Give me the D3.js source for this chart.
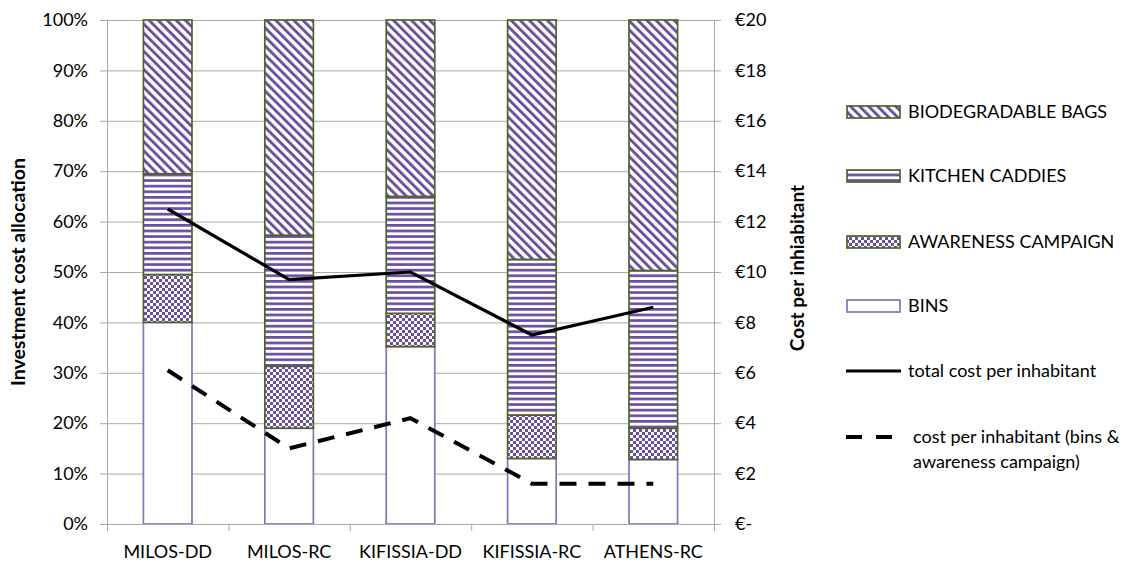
<!DOCTYPE html>
<html><head><meta charset="utf-8">
<script src="https://cdn.jsdelivr.net/npm/d3@7"></script>
<style>body{margin:0;background:#fff}svg{display:block}text{font-family:Lato,"Open Sans",sans-serif;fill:#000}</style>
</head><body><svg id="c" width="1146" height="562"></svg>
<script>
const categories = ["MILOS-DD","MILOS-RC","KIFISSIA-DD","KIFISSIA-RC","ATHENS-RC"];
const bins = [40, 19, 35.2, 13, 12.8];
const awareness = [9.5, 12.3, 6.6, 8.6, 6.2];
const caddies = [20, 26, 23.2, 30.9, 31.3];
const bags = [30.5, 42.7, 35, 47.5, 49.7];
const totalCost = [12.5, 9.7, 10.0, 7.5, 8.6];
const binsAwarenessCost = [6.1, 3.0, 4.2, 1.6, 1.6];
const leftTicks = [0,10,20,30,40,50,60,70,80,90,100];
const rightTicks = [0,2,4,6,8,10,12,14,16,18,20];
const seriesNames = ["BINS","AWARENESS CAMPAIGN","KITCHEN CADDIES","BIODEGRADABLE BAGS"];

const purple = "#6b50a0", green = "#4f6228", binPurple = "#8c70bb", grid = "#a9a9a9";
const svg = d3.select("#c");
const defs = svg.append("defs");
const pd = defs.append("pattern").attr("id","pBags").attr("patternUnits","userSpaceOnUse")
  .attr("width",6.4).attr("height",6.4).attr("patternTransform","rotate(-45)");
pd.append("rect").attr("width",6.4).attr("height",6.4).attr("fill","#fff");
pd.append("rect").attr("width",2.9).attr("height",6.4).attr("fill",purple);
const ph = defs.append("pattern").attr("id","pCad").attr("patternUnits","userSpaceOnUse").attr("width",6).attr("height",5.6);
ph.append("rect").attr("width",6).attr("height",5.6).attr("fill","#fff");
ph.append("rect").attr("width",6).attr("height",2.7).attr("fill",purple);
const pc = defs.append("pattern").attr("id","pAw").attr("patternUnits","userSpaceOnUse").attr("width",6).attr("height",6);
pc.append("rect").attr("width",6).attr("height",6).attr("fill","#fff");
pc.append("rect").attr("width",3).attr("height",3).attr("fill",purple);
pc.append("rect").attr("x",3).attr("y",3).attr("width",3).attr("height",3).attr("fill",purple);

const fills = {"BINS":"#fff","AWARENESS CAMPAIGN":"url(#pAw)","KITCHEN CADDIES":"url(#pCad)","BIODEGRADABLE BAGS":"url(#pBags)"};
const strokes = {"BINS":binPurple,"AWARENESS CAMPAIGN":green,"KITCHEN CADDIES":green,"BIODEGRADABLE BAGS":green};

const L=107, R=714, T=20, B=524;
const FS = 18;
const x = d3.scaleBand().domain(categories).range([L,R]).paddingInner(0.6).paddingOuter(0.3);
const xOuter = d3.scaleBand().domain(categories).range([L,R]);
const y = d3.scaleLinear().domain([0,100]).range([B,T]);
const y2 = d3.scaleLinear().domain([0,20]).range([B,T]);

svg.append("g").selectAll("line").data(leftTicks).join("line")
  .attr("x1",L).attr("x2",R).attr("y1",d=>y(d)+0.5).attr("y2",d=>y(d)+0.5).attr("stroke",grid);

const rows = categories.map((c,i)=>({cat:c,"BINS":bins[i],"AWARENESS CAMPAIGN":awareness[i],"KITCHEN CADDIES":caddies[i],"BIODEGRADABLE BAGS":bags[i]}));
const stacked = d3.stack().keys(seriesNames)(rows);
stacked.forEach(s=>{
  svg.append("g").selectAll("rect").data(s).join("rect")
    .attr("x",d=>x(d.data.cat)).attr("width",x.bandwidth())
    .attr("y",d=>y(d[1])).attr("height",d=>y(d[0])-y(d[1]))
    .attr("fill",fills[s.key]).attr("stroke",strokes[s.key]).attr("stroke-width",1.7);
});

const gl = svg.append("g").attr("transform",`translate(${L},0)`)
  .call(d3.axisLeft(y).tickValues(leftTicks).tickFormat(d=>d+"%").tickSize(7).tickPadding(12));
const gr = svg.append("g").attr("transform",`translate(${R},0)`)
  .call(d3.axisRight(y2).tickValues(rightTicks).tickFormat(d=>d===0?"€-":"€"+d).tickSize(7).tickPadding(14));
const gb = svg.append("g").attr("transform",`translate(0,${B})`)
  .call(d3.axisBottom(x).tickSize(0).tickPadding(20));
[gl,gr,gb].forEach(g=>{g.select(".domain").attr("stroke",grid);g.selectAll(".tick line").attr("stroke",grid);
  g.selectAll("text").attr("font-size",FS).attr("fill","#000").attr("font-family","Lato, sans-serif");});
gb.select(".domain").attr("d",`M${L},0.5H${R}`);
gb.selectAll(".tick text").attr("dy","0.71em").attr("y",21);
svg.append("g").selectAll("line").data(categories.concat(["_end"])).join("line")
  .attr("x1",(d,i)=>i<categories.length?xOuter(d)+0.5:R+0.5).attr("x2",(d,i)=>i<categories.length?xOuter(d)+0.5:R+0.5)
  .attr("y1",B).attr("y2",B+7).attr("stroke",grid);

const xc = c=>x(c)+x.bandwidth()/2;
const line = d3.line().x((d,i)=>xc(categories[i])).y(d=>y2(d));
svg.append("path").attr("d",line(totalCost)).attr("fill","none").attr("stroke","#000").attr("stroke-width",3.2);
svg.append("path").attr("d",line(binsAwarenessCost)).attr("fill","none").attr("stroke","#000").attr("stroke-width",4)
  .attr("stroke-dasharray","17,12");

svg.append("text").attr("transform",`translate(25,${(T+B)/2}) rotate(-90)`).attr("text-anchor","middle")
  .attr("font-size",19.5).attr("font-weight","bold").text("Investment cost allocation");
svg.append("text").attr("transform",`translate(804,${(T+B)/2 - 4}) rotate(-90)`).attr("text-anchor","middle")
  .attr("font-size",19).attr("font-weight","bold").text("Cost per inhiabitant");

const lg = svg.append("g");
const legItems = [
  {name:"BIODEGRADABLE BAGS", y:112, type:"rect"},
  {name:"KITCHEN CADDIES", y:176, type:"rect"},
  {name:"AWARENESS CAMPAIGN", y:242, type:"rect"},
  {name:"BINS", y:306, type:"rect"},
  {name:"total cost per inhabitant", y:371, type:"solid"},
  {name:"cost per inhabitant (bins &", y:437, type:"dash", extra:"awareness campaign)"}
];
legItems.forEach(it=>{
  if(it.type==="rect"){
    lg.append("rect").attr("x",847).attr("y",it.y-6).attr("width",53).attr("height",12)
      .attr("fill",fills[it.name]).attr("stroke",strokes[it.name]).attr("stroke-width",1.7);
    lg.append("text").attr("x",908).attr("y",it.y).attr("dy","0.35em").attr("font-size",FS).text(it.name);
  } else if(it.type==="solid"){
    lg.append("line").attr("x1",846).attr("x2",901).attr("y1",it.y).attr("y2",it.y).attr("stroke","#000").attr("stroke-width",3.2);
    lg.append("text").attr("x",908).attr("y",it.y).attr("dy","0.35em").attr("font-size",FS).text(it.name);
  } else {
    lg.append("line").attr("x1",846).attr("x2",901).attr("y1",it.y).attr("y2",it.y).attr("stroke","#000").attr("stroke-width",4).attr("stroke-dasharray","16,14");
    lg.append("text").attr("x",913).attr("y",it.y).attr("dy","0.35em").attr("font-size",FS).text(it.name);
    lg.append("text").attr("x",913).attr("y",it.y+25).attr("dy","0.35em").attr("font-size",FS).text(it.extra);
  }
});
</script></body></html>
